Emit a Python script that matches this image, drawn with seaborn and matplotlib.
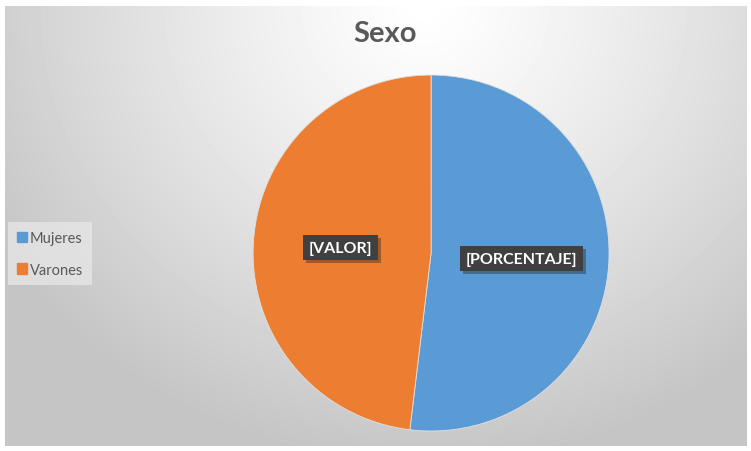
import numpy as np
import matplotlib
matplotlib.use("Agg")
import matplotlib.pyplot as plt
import matplotlib.patheffects as pe
import seaborn as sns

categories = ["Mujeres", "Varones"]
values = [51.9, 48.1]
slice_labels = ["[PORCENTAJE]", "[VALOR]"]
title = "Sexo"

sns.set_theme(style="white")
plt.rcParams["font.family"] = ["Lato", "DejaVu Sans"]

colors = ["#5b9bd5", "#ed7d31"]

fig = plt.figure(figsize=(7.51, 4.52), dpi=100)
fig.patch.set_facecolor("white")

# radial grey background like the office chart area
bg = fig.add_axes([5 / 751, 5 / 452, 742 / 751, 440 / 452])
yy, xx = np.mgrid[0:440, 0:742]
d = np.sqrt(((xx - 420) / 500.0) ** 2 + ((yy - 0) / 460.0) ** 2)
d = np.clip(d, 0, 1)
shade = 1.0 - 0.23 * d ** 1.2
bg.imshow(shade, cmap="gray", vmin=0, vmax=1, aspect="auto", interpolation="bilinear")
bg.set_axis_off()

ax = fig.add_axes([0.337, 0.044, 0.474, 0.788])
wedges, _ = ax.pie(values, colors=colors, startangle=90, counterclock=False,
                   wedgeprops=dict(linewidth=0.6, edgecolor="#e0e0e0"))
ax.set_xlim(-1, 1)
ax.set_ylim(-1, 1)
ax.set_axis_off()

for w, lab in zip(wedges, slice_labels):
    ang = np.deg2rad((w.theta1 + w.theta2) / 2)
    t = ax.text(0.51 * np.cos(ang), 0.51 * np.sin(ang), lab, ha="center", va="center",
                color="white", fontsize=11.5, fontweight="bold",
                bbox=dict(boxstyle="square,pad=0.35", fc="#404040", ec="none"))
    t.get_bbox_patch().set_path_effects([pe.SimplePatchShadow(offset=(2, -2), alpha=0.35), pe.Normal()])

fig.text(0.513, 0.925, title, ha="center", va="center", fontsize=21,
         fontweight="bold", color="#595959")

handles = [plt.Rectangle((0, 0), 1, 1, color=c) for c in colors]
leg = fig.legend(handles, categories, loc="center left", bbox_to_anchor=(0.005, 0.436),
                 frameon=True, fontsize=10.5, handlelength=0.7, handleheight=0.7,
                 handletextpad=0.2, labelspacing=1.2, borderpad=0.6, borderaxespad=0.3,
                 fancybox=False)
leg.get_frame().set_facecolor("#e6e6e6")
leg.get_frame().set_edgecolor("none")
for txt in leg.get_texts():
    txt.set_color("#595959")

fig.savefig("out.png", dpi=100)
plt.close(fig)
